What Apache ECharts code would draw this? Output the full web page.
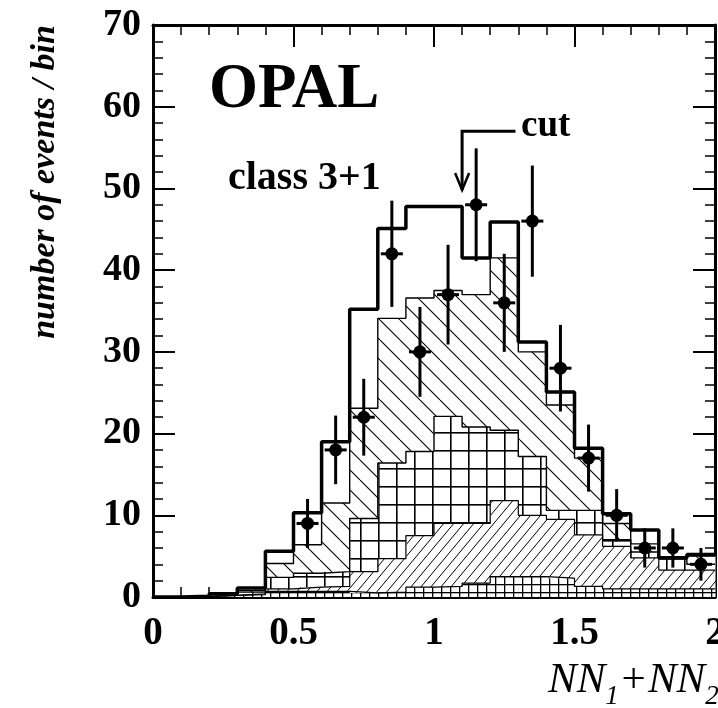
<!DOCTYPE html>
<html>
<head>
<meta charset="utf-8">
<script src="https://cdn.jsdelivr.net/npm/echarts@6/dist/echarts.min.js"></script>
<style>
  html, body { margin: 0; padding: 0; background: #fff; }
  #chart { width: 718px; height: 708px; }
</style>
</head>
<body>
<div id="chart"></div>
<script>
// Histogram binning on NN1+NN2 (20 bins of width 0.1)
const binEdges = [0.0, 0.1, 0.2, 0.3, 0.4, 0.5, 0.6, 0.7, 0.8, 0.9, 1.0,
                  1.1, 1.2, 1.3, 1.4, 1.5, 1.6, 1.7, 1.8, 1.9, 2.0];

// Monte Carlo contributions per bin, stacked from the bottom up
const bgFineGrid  = [0, 0.05, 0.2, 0.3, 0.7, 0.7, 0.7, 0.5, 0.6, 1.2, 1.3, 1.7, 2.5, 2.5, 2.3, 1.3, 1.0, 1.0, 1.0, 1.0];
const bgFineHatch = [0, 0, 0, 0.1, 0.3, 0.5, 0.6, 2.6, 4.1, 6.3, 7.7, 7.3, 9.3, 7.5, 7.2, 6.3, 5.2, 3.8, 2.3, 2.3];
const bgGrid      = [0, 0, 0.1, 0.2, 1.4, 1.7, 1.8, 6.5, 11.7, 10.3, 13.1, 11.8, 8.6, 7.2, 1.1, 3.0, 0.8, 0.7, 1.4, 0.7];
const bgHatch     = [0, 0, 0, 0.2, 1.7, 3.5, 8.4, 13.5, 17.7, 18.8, 15.4, 16.2, 21.1, 12.8, 12.9, 6.4, 2.0, 1.0, 0, 1.0];
const signalMC    = [0, 0.05, 0.1, 0.3, 1.5, 3.9, 7.5, 12.1, 11.0, 11.2, 10.3, 4.5, 4.4, 1.2, 1.6, 1.2, 1.2, 1.7, 0.1, 0.2];

// Observed data: bin centres, counts and their errors
const dataX   = [0.55, 0.65, 0.75, 0.85, 0.95, 1.05, 1.15, 1.25, 1.35, 1.45, 1.55, 1.65, 1.75, 1.85, 1.95];
const dataY   = [9, 18, 22, 42, 30, 37, 48, 36, 46, 28, 17, 10, 6, 6, 4];
const dataErr = [3.0, 4.2, 4.7, 6.5, 5.5, 6.1, 6.9, 6.0, 6.8, 5.3, 4.1, 3.2, 2.4, 2.4, 2.0];

// Tick labels
const xTicks = [0, 0.5, 1, 1.5, 2];
const yTicks = [0, 10, 20, 30, 40, 50, 60, 70];

// Cut marker on NN1+NN2
const cutAt = 1.1;
const cutArrowTip = 49.8;
const cutArrowTop = 57.0;
const cutArrowEnd = 1.29;

const SERIF = '"Liberation Serif", "Times New Roman", serif';

// cumulative stack tops
function accumulate(layers) {
  const out = [];
  let run = binEdges.slice(1).map(() => 0);
  layers.forEach(l => {
    run = run.map((v, i) => v + l[i]);
    out.push(run.slice());
  });
  return out;
}
const [cumA, cumB, cumC, cumD, cumTotal] =
  accumulate([bgFineGrid, bgFineHatch, bgGrid, bgHatch, signalMC]);
const zeros = binEdges.slice(1).map(() => 0);

// hatch tiles
function tile(w, h, paint) {
  const c = document.createElement('canvas');
  c.width = w; c.height = h;
  const g = c.getContext('2d');
  g.fillStyle = '#fff';
  g.fillRect(0, 0, w, h);
  g.strokeStyle = '#000';
  g.fillStyle = '#000';
  paint(g, w, h);
  return { image: c, repeat: 'repeat' };
}
const patBackslash = tile(20, 20, (g, w, h) => {
  g.lineWidth = 1.1; g.beginPath();
  for (let k = -1; k <= 1; k++) { g.moveTo(k * w, 0); g.lineTo(k * w + w, h); }
  g.stroke();
});
const patSlash = tile(10, 12, (g, w, h) => {
  g.lineWidth = 1; g.beginPath();
  for (let k = -1; k <= 1; k++) { g.moveTo(k * w, h); g.lineTo(k * w + w, 0); }
  g.stroke();
});
const patGrid = tile(18, 18, (g, w, h) => {
  g.fillRect(0, 0, w, 1.6); g.fillRect(0, 0, 1.6, h);
});
const patFine = tile(9, 8, (g, w, h) => {
  g.fillRect(0, 0, w, 1.3); g.fillRect(0, 0, 1.3, h);
});

function fillLayer(name, bases, tops, fill) {
  return {
    type: 'custom', name, silent: true, z: 2,
    data: bases.map((b, i) => [binEdges[i], binEdges[i + 1], b, tops[i]]),
    encode: { x: [0, 1], y: [2, 3] },
    renderItem(params, api) {
      const p0 = api.coord([api.value(0), api.value(2)]);
      const p1 = api.coord([api.value(1), api.value(3)]);
      const h = p0[1] - p1[1];
      if (h <= 0) return null;
      return {
        type: 'rect',
        shape: { x: p0[0], y: p1[1], width: p1[0] - p0[0] + 0.5, height: h },
        style: { fill }
      };
    }
  };
}

function stepLine(name, cum, width) {
  const pts = cum.map((v, i) => [binEdges[i], v]);
  pts.push([binEdges[binEdges.length - 1], cum[cum.length - 1]]);
  return {
    type: 'line', name, step: 'end', data: pts, symbol: 'none', silent: true,
    z: width > 2 ? 4 : 3,
    lineStyle: { color: '#000', width }
  };
}

const axisCommon = {
  axisLine: { show: true, onZero: false, lineStyle: { color: '#000', width: 3 } },
  axisTick: { show: true, inside: true, length: 22, lineStyle: { color: '#000', width: 2 } },
  minorTick: { show: true, splitNumber: 5, length: 10, lineStyle: { color: '#000', width: 1.5 } },
  splitLine: { show: false },
  minorSplitLine: { show: false }
};

// text annotations and axis titles
const meas = document.createElement('canvas').getContext('2d');
function xTitle() {
  const big = 'italic 43px ' + SERIF, small = 'italic 27px ' + SERIF;
  const parts = [['NN', big, 0], ['1', small, 8], ['+NN', big, 0], ['2', small, 8]];
  let x = 548;
  return parts.map(([t, f, dy]) => {
    meas.font = f;
    const el = { type: 'text', x, y: 702 + dy, z: 10,
                 style: { text: t, font: f, fill: '#000', verticalAlign: 'bottom' } };
    x += meas.measureText(t).width;
    return el;
  });
}
const graphics = [
  { type: 'text', left: 209, top: 59, z: 10,
    style: { text: 'OPAL', font: 'bold 63px ' + SERIF, fill: '#000' } },
  { type: 'text', left: 228, top: 159, z: 10,
    style: { text: 'class 3+1', font: 'bold 40px ' + SERIF, fill: '#000' } },
  { type: 'text', left: 521, top: 108, z: 10,
    style: { text: 'cut', font: 'bold 37px ' + SERIF, fill: '#000' } },
  { type: 'text', x: 45, y: 182, rotation: Math.PI / 2, z: 10,
    style: { text: 'number of events / bin', font: 'italic bold 34px ' + SERIF,
             fill: '#000', align: 'center', verticalAlign: 'middle' } }
].concat(xTitle());

const chart = echarts.init(document.getElementById('chart'), null, { renderer: 'canvas' });

chart.setOption({
  animation: false,
  backgroundColor: '#fff',
  grid: { left: 153, right: 3, top: 25, bottom: 111, containLabel: false, outerBoundsMode: 'none' },
  xAxis: [
    Object.assign({}, axisCommon, {
      type: 'value', position: 'bottom', min: xTicks[0], max: xTicks[xTicks.length - 1], interval: 0.5,
      axisLabel: {
        color: '#000', fontFamily: SERIF, fontWeight: 'bold', fontSize: 39, margin: 17,
        formatter: v => (xTicks.indexOf(v) >= 0 ? String(v) : '')
      }
    }),
    Object.assign({}, axisCommon, {
      type: 'value', position: 'top', min: xTicks[0], max: xTicks[xTicks.length - 1], interval: 0.5,
      axisLabel: { show: false }
    })
  ],
  yAxis: [
    Object.assign({}, axisCommon, {
      type: 'value', position: 'left', min: yTicks[0], max: yTicks[yTicks.length - 1], interval: 10,
      axisLabel: {
        color: '#000', fontFamily: SERIF, fontWeight: 'bold', fontSize: 38, margin: 12,
        formatter: v => (yTicks.indexOf(v) >= 0 ? String(v) : '')
      }
    }),
    Object.assign({}, axisCommon, {
      type: 'value', position: 'right', min: yTicks[0], max: yTicks[yTicks.length - 1], interval: 10,
      axisLabel: { show: false }
    })
  ],
  series: [
    fillLayer('bgFineGrid', zeros, cumA, patFine),
    fillLayer('bgFineHatch', cumA, cumB, patSlash),
    fillLayer('bgGrid', cumB, cumC, patGrid),
    fillLayer('bgHatch', cumC, cumD, patBackslash),
    stepLine('bgFineGrid outline', cumA, 1.2),
    stepLine('bgFineHatch outline', cumB, 1.2),
    stepLine('bgGrid outline', cumC, 1.4),
    stepLine('bgHatch outline', cumD, 1.4),
    stepLine('total MC', cumTotal, 3.5),
    {
      type: 'custom', name: 'data', z: 6, silent: true,
      data: dataX.map((x, i) => [x, dataY[i], dataErr[i]]),
      encode: { x: 0, y: 1 },
      renderItem(params, api) {
        const x = api.value(0), y = api.value(1), e = api.value(2);
        const top = api.coord([x, y + e]);
        const bot = api.coord([x, y - e]);
        const c = api.coord([x, y]);
        return {
          type: 'group',
          children: [
            { type: 'line', shape: { x1: top[0], y1: top[1], x2: bot[0], y2: bot[1] },
              style: { stroke: '#000', lineWidth: 3 } },
            { type: 'line', shape: { x1: c[0] - 11, y1: c[1], x2: c[0] + 11, y2: c[1] },
              style: { stroke: '#000', lineWidth: 3 } },
            { type: 'circle', shape: { cx: c[0], cy: c[1], r: 6.5 }, style: { fill: '#000' } }
          ]
        };
      }
    },
    {
      type: 'custom', name: 'cut', z: 7, silent: true,
      data: [[cutAt, cutArrowTip, cutArrowTop, cutArrowEnd]],
      encode: { x: 0, y: 1 },
      renderItem(params, api) {
        const tip = api.coord([api.value(0), api.value(1)]);
        const top = api.coord([api.value(0), api.value(2)]);
        const end = api.coord([api.value(3), api.value(2)]);
        return {
          type: 'group',
          children: [
            { type: 'polyline', shape: { points: [end, top, tip] },
              style: { stroke: '#000', lineWidth: 3, fill: null } },
            { type: 'polyline',
              shape: { points: [[tip[0] - 7, tip[1] - 17], tip, [tip[0] + 7, tip[1] - 17]] },
              style: { stroke: '#000', lineWidth: 2.5, fill: null } }
          ]
        };
      }
    }
  ],
  graphic: graphics
});
</script>
</body>
</html>
